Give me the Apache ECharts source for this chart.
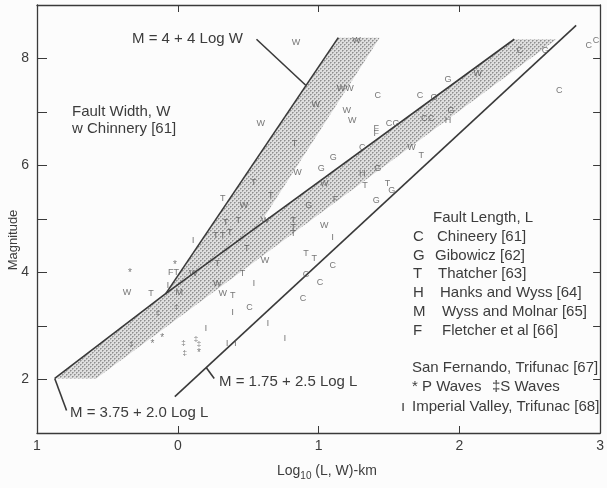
<!DOCTYPE html>
<html>
<head>
<meta charset="utf-8">
<script src="https://cdn.jsdelivr.net/npm/echarts@6/dist/echarts.min.js"></script>
<style>
  html, body { margin: 0; padding: 0; background: #fcfcfc; }
  #chart { width: 607px; height: 488px; }
</style>
</head>
<body>
<div id="chart"></div>
<script>
// Axis settings
const xTicks = [-1, 0, 1, 2, 3];
const yTicks = [1, 2, 3, 4, 5, 6, 7, 8, 9];
const yLabelled = [2, 4, 6, 8];

// Regression lines (log10 length / width in km, magnitude)
const fitLength = [[-0.874, 2.02], [-0.084, 3.61], [2.39, 8.36]];   // M = 3.75 + 2.0 Log L
const fitWidth = [[-0.084, 3.61], [1.14, 8.39]];                    // M = 4 + 4 Log W
const lowerBound = [[-0.021, 1.68], [2.83, 8.62]];                  // M = 1.75 + 2.5 Log L

// Leader lines from equation labels to their lines
const leaderWidth = [[0.559, 8.36], [0.909, 7.50]];
const leaderLength = [[-0.874, 2.02], [-0.79, 1.42]];
const leaderLower = [[0.203, 2.22], [0.259, 2.02]];

// Outline of the stippled scatter band
const scatterBand = [[-0.874, 2.02], [-0.084, 3.61], [1.14, 8.39], [1.434, 8.39],
  [0.573, 4.87], [2.39, 8.36], [2.69, 8.36], [-0.58, 2.02]];

// Observations, one array per source
const chinneryWidth = [[0.84, 8.30], [0.59, 6.79], [0.98, 7.14], [1.16, 7.44], [1.22, 7.44],
  [1.20, 7.03], [1.24, 6.84], [1.27, 8.34], [0.85, 5.87], [0.47, 5.25], [0.62, 4.97],
  [0.62, 4.22], [0.11, 3.98], [-0.36, 3.63], [0.28, 3.79], [0.32, 3.61], [1.04, 5.66],
  [1.04, 4.88], [2.13, 7.72], [1.66, 6.34]];
const chinneryLength = [[1.42, 7.31], [1.72, 7.31], [1.50, 6.79], [1.75, 6.88], [1.80, 6.88],
  [1.31, 6.34], [2.43, 8.15], [2.71, 7.40], [2.92, 8.24], [2.97, 8.34], [1.10, 4.13],
  [0.91, 3.96], [1.01, 3.81], [0.89, 3.51], [0.51, 3.35]];
const gibowicz = [[1.92, 7.61], [1.82, 7.27], [1.55, 6.79], [1.42, 5.94], [1.41, 5.35],
  [1.105, 6.15], [1.02, 5.94], [0.93, 5.25], [1.94, 7.03], [2.61, 8.15], [1.52, 5.53]];
const thatcher = [[1.73, 6.19], [1.33, 5.63], [1.49, 5.66], [0.83, 6.41], [0.54, 5.68],
  [0.32, 5.38], [0.66, 5.44], [0.34, 4.93], [0.43, 4.97], [0.27, 4.69], [0.32, 4.69],
  [0.37, 4.75], [0.49, 4.45], [0.28, 4.17], [-0.19, 3.61], [0.91, 4.36], [0.97, 4.26],
  [0.39, 3.57], [0.46, 3.98], [0.82, 4.97], [0.82, 4.85], [0.82, 4.73], [-0.01, 4.00]];
const hanksWyss = [[1.92, 6.84], [1.31, 5.85]];
const wyssMolnar = [[0.01, 3.63]];
const fletcher = [[1.12, 5.36], [1.41, 6.69], [1.41, 6.60], [-0.05, 4.00]];
const pWaves = [[-0.02, 4.13], [-0.34, 3.98], [-0.18, 2.65], [-0.11, 2.77], [0.15, 2.49]];
const sWaves = [[-0.33, 2.67], [0.04, 2.69], [0.13, 2.77], [0.15, 2.67], [0.05, 2.49],
  [-0.14, 3.25], [-0.01, 3.35]];
const imperialValley = [[-0.07, 3.76], [0.20, 2.95], [0.39, 3.25], [0.54, 3.79], [0.64, 3.05],
  [0.76, 2.77], [0.35, 2.67], [0.41, 2.67], [0.11, 4.60], [1.10, 4.65]];

const FONT = '"Liberation Sans", Arial, sans-serif';
const INK = '#3a3a3a';
const TEXT = '#3c3c3c';

// Stipple texture used for the band
function stipple() {
  const c = document.createElement('canvas');
  c.width = 4; c.height = 4;
  const g = c.getContext('2d');
  g.fillStyle = '#dedede';
  g.fillRect(0, 0, 4, 4);
  g.fillStyle = '#8e8e8e';
  g.fillRect(0, 0, 1, 1);
  g.fillRect(2, 2, 1, 1);
  g.fillStyle = '#b0b0b0';
  g.fillRect(1, 0, 1, 1);
  g.fillRect(3, 2, 1, 1);
  g.fillRect(0, 1, 1, 1);
  g.fillRect(2, 3, 1, 1);
  return c;
}

function lineSeries(data, width) {
  return {
    type: 'line', data: data, symbol: 'none', silent: true, z: 5,
    lineStyle: { color: INK, width: width }
  };
}

function letterSeries(data, glyph, size) {
  return {
    type: 'scatter', data: data, symbolSize: 4, silent: true, z: 6,
    itemStyle: { color: 'rgba(0,0,0,0)' },
    label: {
      show: true, position: 'inside', formatter: glyph,
      fontFamily: FONT, fontSize: size || 9, color: '#555'
    }
  };
}

function txt(x, y, s, size) {
  return {
    type: 'text', x: x, y: y, silent: true,
    style: { text: s, fontFamily: FONT, fontSize: size || 15, fill: TEXT, verticalAlign: 'middle' }
  };
}

const legendRows = [
  ['C', 'Chineery [61]', 237, 437],
  ['G', 'Gibowicz [62]', 256, 435],
  ['T', 'Thatcher [63]', 274, 438],
  ['H', 'Hanks and Wyss [64]', 293, 440],
  ['M', 'Wyss and Molnar [65]', 312, 442],
  ['F', 'Fletcher et al [66]', 331, 442]
];

const graphics = [
  txt(132, 39, 'M = 4 + 4 Log W'),
  txt(72, 112, 'Fault Width, W'),
  txt(72, 129, 'w Chinnery [61]'),
  txt(70, 413, 'M = 3.75 + 2.0 Log L'),
  txt(219, 382, 'M = 1.75 + 2.5 Log L'),
  txt(433, 218, 'Fault Length, L'),
  txt(412, 368, 'San Fernando, Trifunac [67]'),
  txt(412, 387, '* P Waves'),
  txt(492, 387, '\u2021S Waves'),
  txt(401, 407, '\u0131'),
  txt(412, 407, 'Imperial Valley, Trifunac [68]'),
  {
    type: 'text', x: 13, y: 240, rotation: Math.PI / 2, silent: true,
    style: { text: 'Magnitude', fontFamily: FONT, fontSize: 13, fill: TEXT,
      align: 'center', verticalAlign: 'middle' }
  },
  {
    type: 'text', x: 277, y: 471, silent: true,
    style: {
      text: '{a|Log}{b|10}{a| (L, W)-km}', fontFamily: FONT, verticalAlign: 'middle',
      rich: {
        a: { fontFamily: FONT, fontSize: 14, fill: TEXT },
        b: { fontFamily: FONT, fontSize: 10, fill: TEXT, padding: [10, 0, 0, 0] }
      }
    }
  }
];
legendRows.forEach(function (r) {
  graphics.push(txt(413, r[2], r[0]));
  graphics.push(txt(r[3], r[2], r[1]));
});

const chart = echarts.init(document.getElementById('chart'));
chart.setOption({
  backgroundColor: '#fcfcfc',
  animation: false,
  grid: { left: 37, top: 5, right: -2, bottom: 55 },
  xAxis: [{
    type: 'value', min: xTicks[0], max: xTicks[xTicks.length - 1], interval: 1,
    axisLine: { onZero: false, lineStyle: { color: INK, width: 1.3 } },
    axisTick: { inside: true, length: 7, lineStyle: { color: INK } },
    axisLabel: { fontFamily: FONT, fontSize: 14, color: TEXT, margin: 6,
      formatter: function (v) { return String(Math.abs(v)); } },
    splitLine: { show: false }
  }, {
    type: 'value', position: 'top', min: xTicks[0], max: xTicks[xTicks.length - 1], interval: 1,
    axisLine: { onZero: false, lineStyle: { color: INK, width: 1.3 } },
    axisTick: { inside: true, length: 7, lineStyle: { color: INK } },
    axisLabel: { show: false }, splitLine: { show: false }
  }],
  yAxis: [{
    type: 'value', position: 'left', min: yTicks[0], max: yTicks[yTicks.length - 1], interval: 1,
    axisLine: { show: true, onZero: false, lineStyle: { color: INK, width: 1.3 } },
    axisTick: { show: true, inside: true, length: 10, lineStyle: { color: INK } },
    axisLabel: { fontFamily: FONT, fontSize: 14, color: TEXT, margin: 8,
      formatter: function (v) { return yLabelled.indexOf(v) >= 0 ? String(v) : ''; } },
    splitLine: { show: false }
  }, {
    type: 'value', position: 'right', min: yTicks[0], max: yTicks[yTicks.length - 1], interval: 1,
    axisLine: { show: true, onZero: false, lineStyle: { color: INK, width: 1.3 } },
    axisTick: { show: true, inside: true, length: 7, lineStyle: { color: INK } },
    axisLabel: { show: false }, splitLine: { show: false }
  }],
  graphic: graphics,
  series: [
    {
      type: 'custom', silent: true, z: 2, data: [0],
      renderItem: function (params, api) {
        return {
          type: 'polygon',
          shape: { points: scatterBand.map(function (p) { return api.coord(p); }) },
          style: { fill: { image: stipple(), repeat: 'repeat' }, stroke: 'none' }
        };
      }
    },
    lineSeries(fitLength, 1.6),
    lineSeries(fitWidth, 1.6),
    lineSeries(lowerBound, 1.6),
    lineSeries(leaderWidth, 1.6),
    lineSeries(leaderLength, 1.6),
    lineSeries(leaderLower, 1.6),
    letterSeries(chinneryWidth, 'W'),
    letterSeries(chinneryLength, 'C'),
    letterSeries(gibowicz, 'G'),
    letterSeries(thatcher, 'T'),
    letterSeries(hanksWyss, 'H'),
    letterSeries(wyssMolnar, 'M'),
    letterSeries(fletcher, 'F'),
    letterSeries(pWaves, '*', 10),
    letterSeries(sWaves, '\u2021', 8),
    letterSeries(imperialValley, '\u0131', 10)
  ]
});
</script>
</body>
</html>
